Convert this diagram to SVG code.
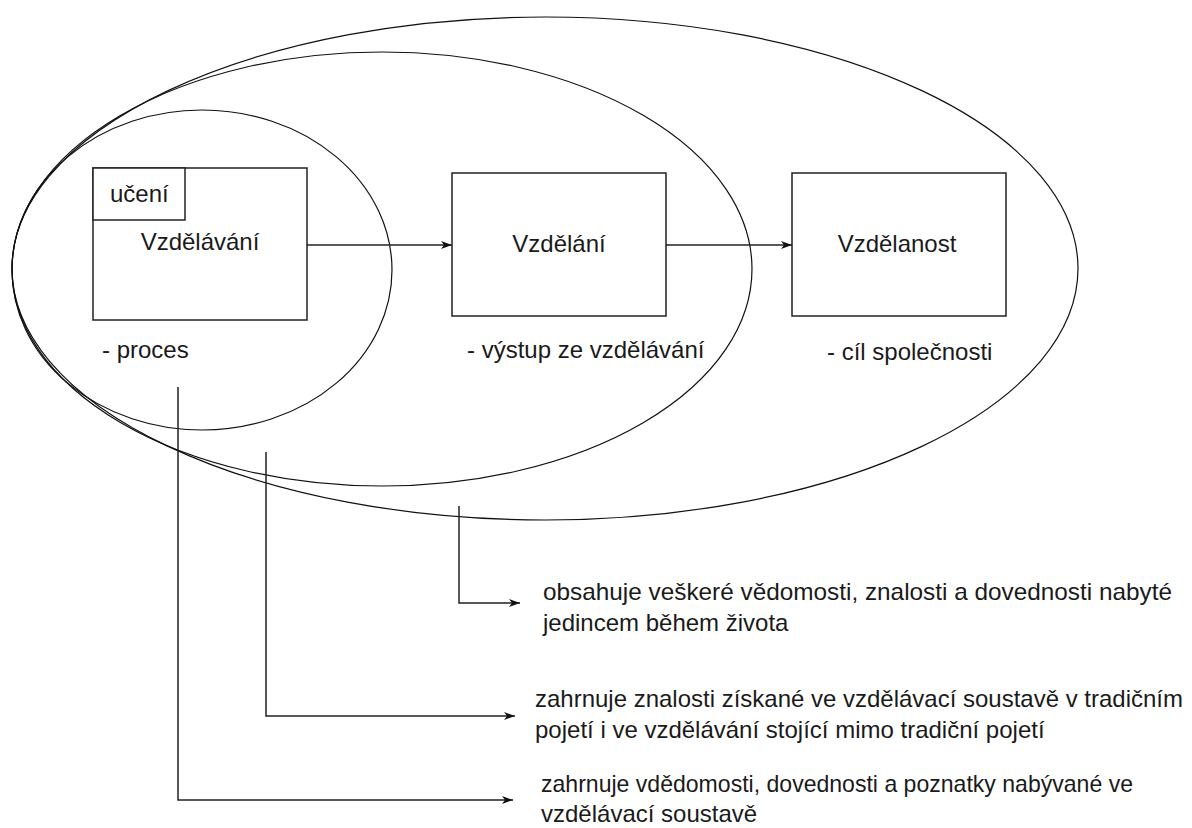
<svg xmlns="http://www.w3.org/2000/svg" width="1192" height="828" viewBox="0 0 1192 828">
  <style>
    .bg { fill: #ffffff; }
    .ring { fill: none; stroke: #111111; stroke-width: 1.2; }
    .box { fill: #ffffff; stroke: #222222; stroke-width: 1.5; }
    .wire { fill: none; stroke: #222222; stroke-width: 1.5; }
    .lbl { font-family: "Liberation Sans", Arial, sans-serif; font-size: 24px; fill: #1a1a1a; }
    .note { font-family: "Liberation Sans", Arial, sans-serif; font-size: 24px; fill: #1a1a1a; }
  </style>
  <defs>
    <marker id="arrow" viewBox="0 0 11 9" refX="11" refY="4.5" markerWidth="11" markerHeight="9" markerUnits="userSpaceOnUse" orient="auto">
      <path d="M0,0.5 L11,4.5 L0,8.5 L3,4.5 Z" fill="#111111"/>
    </marker>
  </defs>

  <rect class="bg" x="0" y="0" width="1192" height="828"/>

  <!-- nested scopes: vzdělanost ⊃ vzdělání ⊃ vzdělávání -->
  <g id="scopes">
    <ellipse id="scope-outer" class="ring" cx="545" cy="268.5" rx="533" ry="251.5"/>
    <ellipse id="scope-middle" class="ring" cx="382" cy="269" rx="370" ry="217"/>
    <ellipse id="scope-inner" class="ring" cx="202" cy="270" rx="190" ry="160"/>
  </g>

  <!-- connectors -->
  <g id="connectors">
    <line class="wire" x1="307" y1="245" x2="452" y2="245" marker-end="url(#arrow)"/>
    <line class="wire" x1="666" y1="245" x2="792" y2="245" marker-end="url(#arrow)"/>
    <polyline class="wire" points="459,506 459,603 520,603" marker-end="url(#arrow)"/>
    <polyline class="wire" points="266,452 266,716 515,716" marker-end="url(#arrow)"/>
    <polyline class="wire" points="178,387 178,800 513,800" marker-end="url(#arrow)"/>
  </g>

  <g id="node-vzdelavani">
    <rect class="box" x="93" y="168" width="214" height="152"/>
    <rect class="box" x="93" y="168" width="92" height="52"/>
    <text class="lbl" x="110" y="202">učení</text>
    <text class="lbl" x="200" y="250" text-anchor="middle">Vzdělávání</text>
    <text class="lbl" x="102" y="358">- proces</text>
  </g>

  <g id="node-vzdelani">
    <rect class="box" x="452" y="173" width="214" height="143"/>
    <text class="lbl" x="559" y="252" text-anchor="middle">Vzdělání</text>
    <text class="lbl" x="467" y="358">- výstup ze vzdělávání</text>
  </g>

  <g id="node-vzdelanost">
    <rect class="box" x="792" y="173" width="214" height="143"/>
    <text class="lbl" x="897" y="252" text-anchor="middle">Vzdělanost</text>
    <text class="lbl" x="827" y="360">- cíl společnosti</text>
  </g>

  <g id="note-vzdelanost">
    <text class="note" x="543" y="600" textLength="629" lengthAdjust="spacingAndGlyphs">obsahuje veškeré vědomosti, znalosti a dovednosti nabyté</text>
    <text class="note" x="543" y="631">jedincem během života</text>
  </g>

  <g id="note-vzdelani">
    <text class="note" x="535" y="707" textLength="648" lengthAdjust="spacingAndGlyphs">zahrnuje znalosti získané ve vzdělávací soustavě v tradičním</text>
    <text class="note" x="535" y="738">pojetí i ve vzdělávání stojící mimo tradiční pojetí</text>
  </g>

  <g id="note-vzdelavani">
    <text class="note" x="541" y="792" textLength="592" lengthAdjust="spacingAndGlyphs">zahrnuje vdědomosti, dovednosti a poznatky nabývané ve</text>
    <text class="note" x="541" y="822">vzdělávací soustavě</text>
  </g>
</svg>
